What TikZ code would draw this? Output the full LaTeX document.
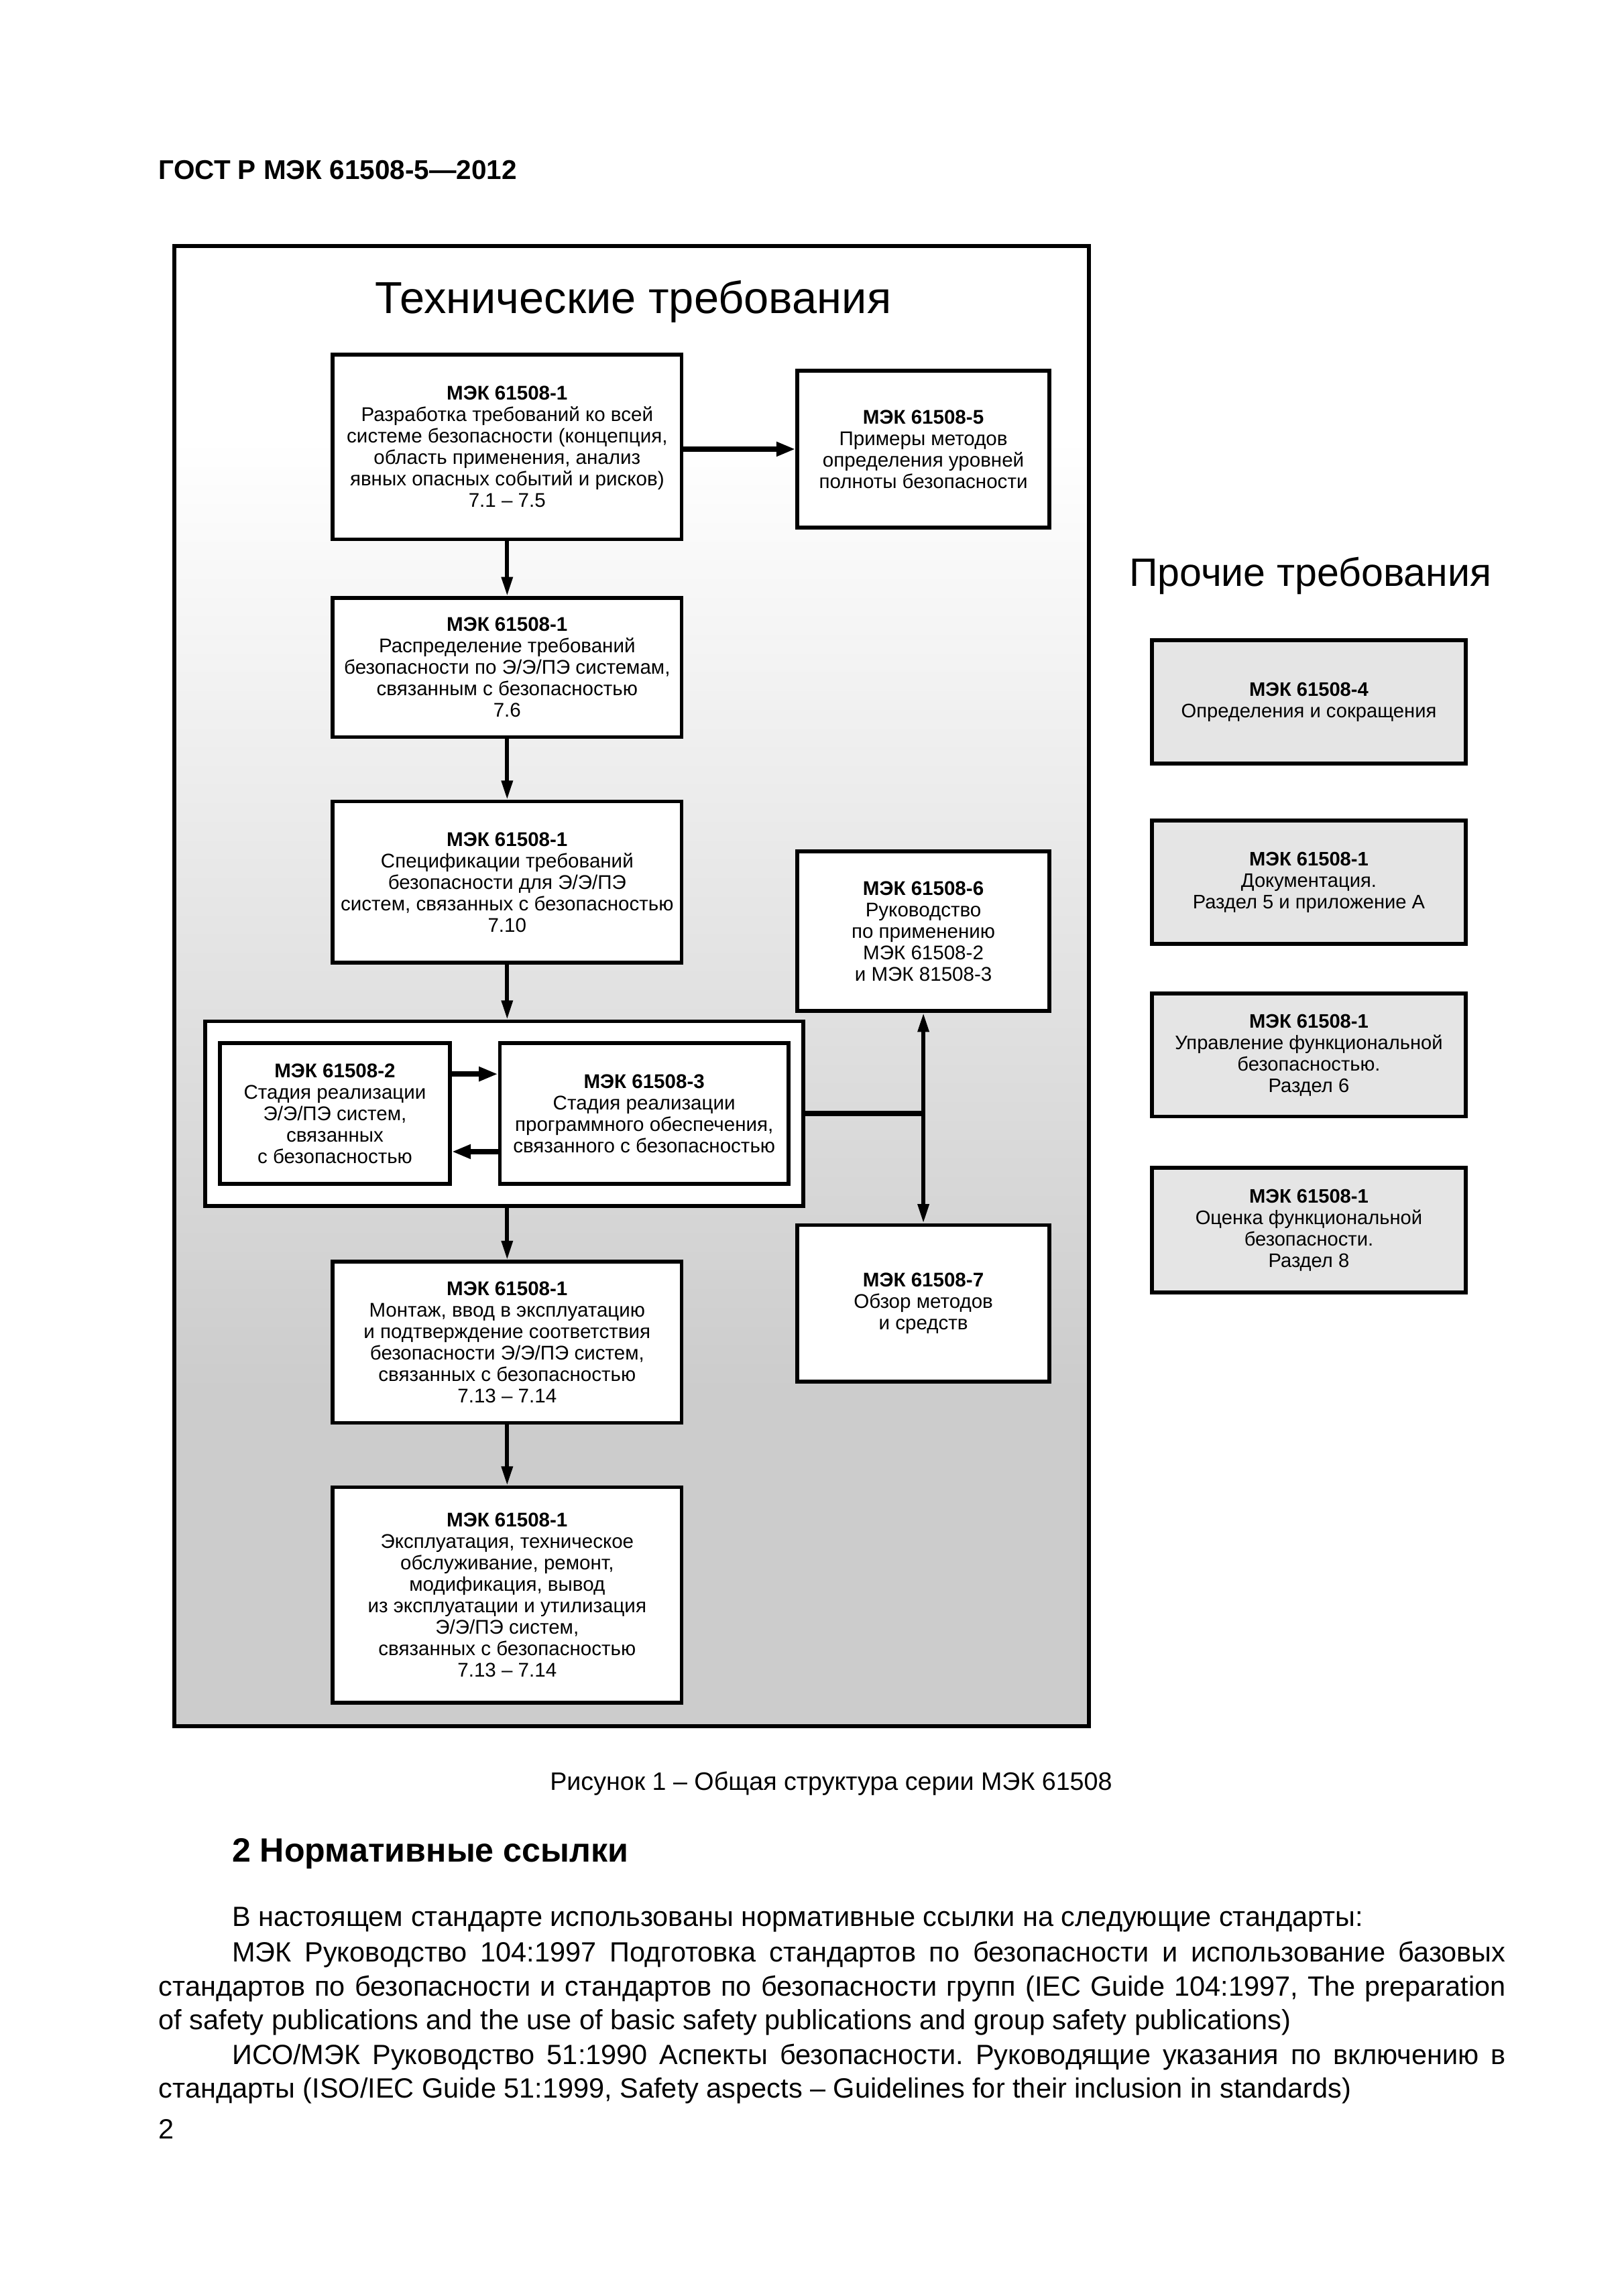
\documentclass[tikz,border=0pt]{standalone}
\usepackage{fontspec}
\setmainfont{Liberation Sans}
\usetikzlibrary{arrows.meta,calc}
\definecolor{boxgray}{gray}{0.9}
\definecolor{botgray}{gray}{0.8}
\pgfdeclareverticalshading{bgshade}{100bp}{color(0bp)=(botgray); color(36.3bp)=(botgray); color(68.5bp)=(white); color(100bp)=(white)}
\newcommand{\boxfont}{\fontsize{7.3}{7.9}\selectfont}
\newcommand{\rboxfont}{\fontsize{7.2}{7.9}\selectfont}
\newcommand{\bodyfont}{\fontsize{10.25}{12.6}\selectfont}
\frenchspacing
\begin{document}
\begin{tikzpicture}[x=0.54pt,y=-0.54pt,
  box/.style={draw, line width=1.4pt, fill=white, align=center, inner sep=0pt, font=\boxfont},
  gbox/.style={box, fill=boxgray, font=\rboxfont},
  varr/.style={line width=1.4pt, -{Triangle[length=7pt,width=4pt]}},
  harr/.style={line width=2pt, -{Triangle[length=7pt,width=5pt]}},
  link/.style={line width=2pt},
  txt/.style={inner sep=0pt, anchor=west},
]
\fill[white] (0,0) rectangle (1107.6,1566.9);
\useasboundingbox (0,0) rectangle (1107.6,1566.9);

% header
\node[txt, font=\fontsize{10}{12}\selectfont\bfseries] (hdr) at (108,116) {ГОСТ Р МЭК 61508-5—2012};

% outer frame
\draw[shading=bgshade, line width=1.4pt] (119,168) rectangle (743,1178);
\node[inner sep=0pt, font=\fontsize{16.5}{19}\selectfont] (title) at (432,206) {Технические требования};

% main column
\node[box, minimum width={238*0.54pt}, minimum height={126*0.54pt}] (a1) at (346,305)
  {\textbf{МЭК 61508-1}\\Разработка требований ко всей\\системе безопасности (концепция,\\область применения, анализ\\явных опасных событий и рисков)\\7.1 – 7.5};
\node[box, minimum width={172*0.54pt}, minimum height={107*0.54pt}] (a5) at (630,306.5)
  {\textbf{МЭК 61508-5}\\Примеры методов\\определения уровней\\полноты безопасности};
\node[box, minimum width={238*0.54pt}, minimum height={95*0.54pt}] (b) at (346,455.5)
  {\textbf{МЭК 61508-1}\\Распределение требований\\безопасности по Э/Э/ПЭ системам,\\связанным с безопасностью\\7.6};
\node[box, minimum width={238*0.54pt}, minimum height={110*0.54pt}] (c) at (346,602)
  {\textbf{МЭК 61508-1}\\Спецификации требований\\безопасности для Э/Э/ПЭ\\систем, связанных с безопасностью\\7.10};
\node[box, minimum width={172*0.54pt}, minimum height={109*0.54pt}] (d6) at (630,635.5)
  {\textbf{МЭК 61508-6}\\Руководство\\по применению\\МЭК 61508-2\\и МЭК 81508-3};
\node[box, minimum width={408*0.54pt}, minimum height={126*0.54pt}] (grp) at (344,760) {};
\node[box, minimum width={157*0.54pt}, minimum height={96*0.54pt}] (e2) at (228.5,760)
  {\textbf{МЭК 61508-2}\\Стадия реализации\\Э/Э/ПЭ систем,\\связанных\\с безопасностью};
\node[box, minimum width={197*0.54pt}, minimum height={96*0.54pt}] (e3) at (439.5,760)
  {\textbf{МЭК 61508-3}\\Стадия реализации\\программного обеспечения,\\связанного с безопасностью};
\node[box, minimum width={172*0.54pt}, minimum height={107*0.54pt}] (d7) at (630,889.5)
  {\textbf{МЭК 61508-7}\\Обзор методов\\и средств};
\node[box, minimum width={238*0.54pt}, minimum height={110*0.54pt}] (f) at (346,916)
  {\textbf{МЭК 61508-1}\\Монтаж, ввод в эксплуатацию\\и подтверждение соответствия\\безопасности Э/Э/ПЭ систем,\\связанных с безопасностью\\7.13 – 7.14};
\node[box, minimum width={238*0.54pt}, minimum height={147*0.54pt}] (g) at (346,1088.5)
  {\textbf{МЭК 61508-1}\\Эксплуатация, техническое\\обслуживание, ремонт,\\модификация, вывод\\из эксплуатации и утилизация\\Э/Э/ПЭ систем,\\связанных с безопасностью\\7.13 – 7.14};

\coordinate (j) at (630,760);

% connectors
\draw[harr] (a1.east |- a5.west) -- (a5.west);
\draw[varr] (a1.south) -- (b.north);
\draw[varr] (b.south) -- (c.north);
\draw[varr] (c.south) -- (c.south |- grp.north);
\draw[varr] (grp.south -| f.north) -- (f.north);
\draw[varr] (f.south) -- (g.north);
\draw[harr] ([yshift=14.6pt]e2.east) -- ([yshift=14.6pt]e3.west);
\draw[harr] ([yshift=-14pt]e3.west) -- ([yshift=-14pt]e2.east);
\draw[link] (grp.east) -- (j);
\draw[varr] (j) -- (d6.south);
\draw[varr] (j) -- (d7.north);

% other requirements
\node[inner sep=0pt, font=\fontsize{14.6}{18}\selectfont] (other) at (894,393) {Прочие требования};
\node[gbox, minimum width={214*0.54pt}, minimum height={84*0.54pt}] (r1) at (893,479)
  {\textbf{МЭК 61508-4}\\Определения и сокращения};
\node[gbox, minimum width={214*0.54pt}, minimum height={84*0.54pt}] (r2) at (893,602)
  {\textbf{МЭК 61508-1}\\Документация.\\Раздел 5 и приложение А};
\node[gbox, minimum width={214*0.54pt}, minimum height={84*0.54pt}] (r3) at (893,720)
  {\textbf{МЭК 61508-1}\\Управление функциональной\\безопасностью.\\Раздел 6};
\node[gbox, minimum width={214*0.54pt}, minimum height={85*0.54pt}] (r4) at (893,839.5)
  {\textbf{МЭК 61508-1}\\Оценка функциональной\\безопасности.\\Раздел 8};

% caption and text
\node[inner sep=0pt, font=\fontsize{9.3}{11}\selectfont] (cap) at (567,1217) {Рисунок 1 – Общая структура серии МЭК 61508};
\node[txt, font=\fontsize{12.4}{14}\selectfont\bfseries] (sec) at (158,1265) {2 Нормативные ссылки};
\node[txt, font=\bodyfont] (p1) at (158,1310) {В настоящем стандарте использованы нормативные ссылки на следующие стандарты:};
\node[txt, font=\bodyfont] (p2) at (158,1334) {\makebox[469.26pt][s]{МЭК Руководство 104:1997 Подготовка стандартов по безопасности и использование базовых}};
\node[txt, font=\bodyfont] (p3) at (108,1357) {\makebox[496.26pt][s]{стандартов по безопасности и стандартов по безопасности групп (IEC Guide 104:1997, The preparation}};
\node[txt, font=\bodyfont] (p4) at (108,1380) {of safety publications and the use of basic safety publications and group safety publications)};
\node[txt, font=\bodyfont] (p5) at (158,1404) {\makebox[469.26pt][s]{ИСО/МЭК Руководство 51:1990 Аспекты безопасности. Руководящие указания по включению в}};
\node[txt, font=\bodyfont] (p6) at (108,1427) {стандарты (ISO/IEC Guide 51:1999, Safety aspects – Guidelines for their inclusion in standards)};
\node[txt, font=\bodyfont] (pg) at (108,1453) {2};
\end{tikzpicture}
\end{document}
